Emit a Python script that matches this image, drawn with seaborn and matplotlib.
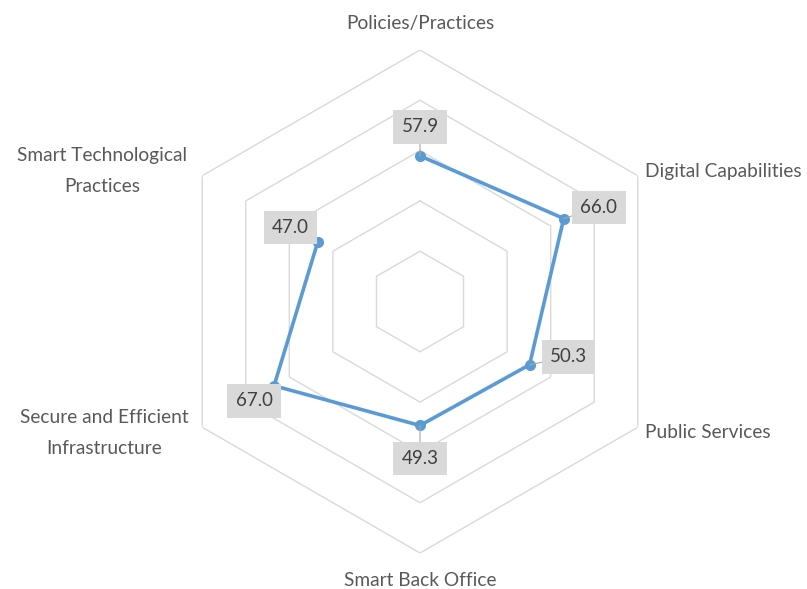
import numpy as np
import matplotlib
matplotlib.use("Agg")
import matplotlib.pyplot as plt
import seaborn as sns

categories = ["Policies/Practices", "Digital Capabilities", "Public Services",
              "Smart Back Office", "Secure and Efficient\nInfrastructure",
              "Smart Technological\nPractices"]
values = [57.9, 66.0, 50.3, 49.3, 67.0, 47.0]
rings = [20, 40, 60, 80, 100]

sns.set_style("white")
plt.rcParams["font.family"] = ["Lato", "DejaVu Sans"]

W, H = 807, 589
fig = plt.figure(figsize=(W / 100, H / 100), dpi=100)
ax = fig.add_axes([168.5 / W, 36 / H, 503 / W, 503 / H], projection="polar")
ax.set_theta_zero_location("N")
ax.set_theta_direction(-1)
ax.set_ylim(0, 100)
ax.grid(False)
ax.set_xticks([])
ax.set_yticks([])
ax.spines["polar"].set_visible(False)
ax.patch.set_alpha(0)

n = len(categories)
theta = np.linspace(0, 2 * np.pi, n, endpoint=False)
theta_closed = np.append(theta, theta[0])

# hexagonal gridlines
for r in rings:
    ax.plot(theta_closed, [r] * (n + 1), color="#d9d9d9", lw=1.0, zorder=1)

# data polygon
vals_closed = values + values[:1]
sns.lineplot(x=theta_closed, y=vals_closed, sort=False, ax=ax, color="#5b9bd5",
             lw=2.6, marker="o", markersize=8, markeredgewidth=0, zorder=3)

# value labels (offsets in pixels)
offsets = [(0, 29), (35, 11), (39, 8), (0, -33), (-20, -15), (-27, 15)]
for t, v, off in zip(theta, values, offsets):
    ax.annotate(f"{v:.1f}", xy=(t, v), xytext=off, textcoords="offset pixels",
                ha="center", va="center", fontsize=13.5, color="#404040",
                bbox=dict(boxstyle="square,pad=0.44", fc="#d9d9d9", ec="none"),
                arrowprops=dict(arrowstyle="-", color="#a6a6a6", lw=0.8,
                                shrinkA=0, shrinkB=0),
                zorder=4)

# category labels
label_pos = [
    (420, 23, "center"),
    (645, 172, "left"),
    (645, 433, "left"),
    (420, 581, "center"),
    (104, 433, "center"),
    (102, 171, "center"),
]
for name, (x, y, ha) in zip(categories, label_pos):
    fig.text(x / W, 1 - y / H, name, ha=ha, va="center", fontsize=13.8,
             color="#595959", linespacing=1.95)

fig.savefig("out.png", dpi=100)
